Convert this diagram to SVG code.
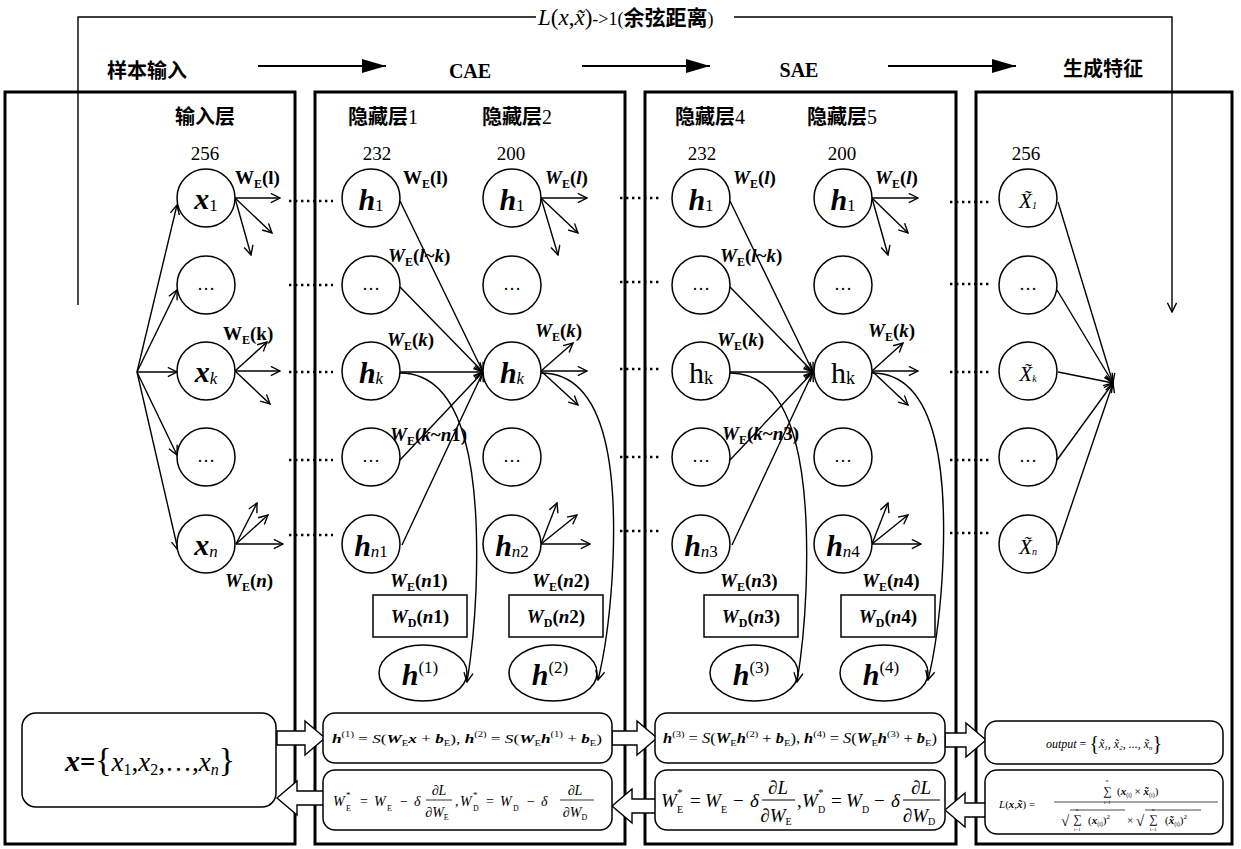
<svg xmlns="http://www.w3.org/2000/svg" width="1241" height="849" viewBox="0 0 1241 849">
<style>
.panel{fill:none;stroke:#000;stroke-width:3}
.nd{fill:#fff;stroke:#000;stroke-width:1.5}
.ln{fill:none;stroke:#000;stroke-width:1.4}
.dot{fill:none;stroke:#000;stroke-width:2.6;stroke-dasharray:2.4 3.6}
.box{fill:#fff;stroke:#000;stroke-width:1.5}
.barr{fill:#fff;stroke:#000;stroke-width:1.4}
.cn{font-family:"Noto Sans CJK SC","Liberation Serif",sans-serif;font-weight:bold;font-size:20px}
.se{font-family:"Liberation Serif","Noto Sans CJK SC",serif}
.num{font-family:"Liberation Serif",serif;font-size:19px}
.b{font-weight:bold}
.i{font-style:italic}
.bi{font-weight:bold;font-style:italic}
.lab{font-family:"Liberation Serif",serif;font-weight:bold;font-size:19px}
.nl{font-family:"Liberation Serif",serif;font-size:30px}
.el{font-family:"Liberation Serif",serif;font-size:18px}
.m{font-family:"Liberation Serif",serif}
</style>
<defs>
<marker id="op" viewBox="0 0 12 12" refX="11" refY="6" markerWidth="11" markerHeight="11" markerUnits="userSpaceOnUse" orient="auto"><path d="M1,1 L11,6 L1,11" fill="none" stroke="#000" stroke-width="1.5"/></marker>
<marker id="sol" viewBox="0 0 24 14" refX="24" refY="7" markerWidth="24" markerHeight="14" markerUnits="userSpaceOnUse" orient="auto"><path d="M0,0 L24,7 L0,14 z" fill="#000"/></marker>
</defs>

<rect width="1241" height="849" fill="#fff"/>

<!-- panels -->
<g id="panels">
<rect class="panel" x="5" y="92" width="290" height="752"/>
<rect class="panel" x="315" y="92" width="310" height="752"/>
<rect class="panel" x="645" y="92" width="311" height="752"/>
<rect class="panel" x="976" y="92" width="256" height="752"/>
</g>

<!-- header -->
<g id="header">
<text class="cn" x="107" y="78">样本输入</text>
<text class="se b" x="470" y="78" font-size="20" text-anchor="middle">CAE</text>
<text class="se b" x="799" y="77" font-size="20" text-anchor="middle">SAE</text>
<text class="cn" x="1063" y="76" font-size="21">生成特征</text>
<text class="se" x="538" y="25"><tspan class="i" font-size="23">L</tspan><tspan font-size="23">(</tspan><tspan class="i" font-size="23">x</tspan><tspan font-size="23">,</tspan><tspan class="i" font-size="23">x&#771;</tspan><tspan font-size="23">)</tspan><tspan font-size="18">-&gt;1(</tspan><tspan font-size="21" font-family="Noto Sans CJK SC" font-weight="bold">余弦距离</tspan><tspan font-size="18">)</tspan></text>
</g>

<!-- connectors -->
<g id="connectors">
<path class="ln" d="M78,305 V17 H536"/>
<path class="ln" d="M734,17 H1172 V312" marker-end="url(#op)"/>
<line x1="258" y1="66" x2="386" y2="66" stroke="#000" stroke-width="2" marker-end="url(#sol)"/>
<line x1="582" y1="66" x2="710" y2="66" stroke="#000" stroke-width="2" marker-end="url(#sol)"/>
<line x1="888" y1="66" x2="1016" y2="66" stroke="#000" stroke-width="2" marker-end="url(#sol)"/>

<!-- fan into input -->
<g class="ln" marker-end="url(#op)">
<line x1="137" y1="372" x2="177" y2="205"/>
<line x1="137" y1="372" x2="177" y2="290"/>
<line x1="137" y1="372" x2="177" y2="372"/>
<line x1="137" y1="372" x2="177" y2="455"/>
<line x1="137" y1="372" x2="178" y2="550"/>
</g>
<!-- input outs -->
<g class="ln" marker-end="url(#op)">
<line x1="235" y1="198" x2="280" y2="198"/>
<line x1="235" y1="198" x2="272" y2="233"/>
<line x1="235" y1="198" x2="251" y2="255"/>
<line x1="235" y1="371" x2="267" y2="342"/>
<line x1="235" y1="371" x2="280" y2="371"/>
<line x1="235" y1="371" x2="270" y2="404"/>
<line x1="236" y1="544" x2="257" y2="503"/>
<line x1="236" y1="544" x2="268" y2="515"/>
<line x1="236" y1="544" x2="283" y2="544"/>
</g>
<!-- panel 2 converge -->
<g class="ln" marker-end="url(#op)">
<line x1="400" y1="201" x2="483" y2="372"/>
<line x1="400" y1="287" x2="483" y2="372"/>
<line x1="400" y1="372" x2="483" y2="372"/>
<line x1="400" y1="460" x2="483" y2="372"/>
<line x1="402" y1="545" x2="483" y2="372"/>
</g>
<g class="ln" marker-end="url(#op)">
<line x1="541" y1="198" x2="587" y2="198"/>
<line x1="541" y1="198" x2="578" y2="233"/>
<line x1="541" y1="198" x2="558" y2="255"/>
<line x1="541" y1="371" x2="573" y2="343"/>
<line x1="541" y1="371" x2="587" y2="371"/>
<line x1="541" y1="371" x2="578" y2="405"/>
<line x1="541" y1="544" x2="557" y2="503"/>
<line x1="541" y1="544" x2="577" y2="515"/>
<line x1="541" y1="544" x2="590" y2="544"/>
</g>
<path class="ln" d="M400,373 C468,373 480,480 476,590 Q474,640 467,682" marker-end="url(#op)"/>
<path class="ln" d="M541,373 C610,373 618,480 612,580 Q608,640 598,680" marker-end="url(#op)"/>
<!-- panel 3 converge -->
<g class="ln" marker-end="url(#op)">
<line x1="730" y1="201" x2="813" y2="372"/>
<line x1="730" y1="287" x2="813" y2="372"/>
<line x1="730" y1="372" x2="813" y2="372"/>
<line x1="730" y1="460" x2="813" y2="372"/>
<line x1="732" y1="545" x2="813" y2="372"/>
</g>
<g class="ln" marker-end="url(#op)">
<line x1="872" y1="198" x2="918" y2="198"/>
<line x1="872" y1="198" x2="908" y2="233"/>
<line x1="872" y1="198" x2="888" y2="255"/>
<line x1="872" y1="371" x2="903" y2="343"/>
<line x1="872" y1="371" x2="918" y2="371"/>
<line x1="872" y1="371" x2="908" y2="405"/>
<line x1="872" y1="544" x2="888" y2="503"/>
<line x1="872" y1="544" x2="908" y2="515"/>
<line x1="872" y1="544" x2="921" y2="544"/>
</g>
<path class="ln" d="M730,373 C798,373 810,480 806,590 Q804,640 797,682" marker-end="url(#op)"/>
<path class="ln" d="M872,373 C940,373 948,480 942,580 Q938,640 928,680" marker-end="url(#op)"/>
<!-- output converge -->
<g class="ln" marker-end="url(#op)">
<line x1="1058" y1="202" x2="1113" y2="383"/>
<line x1="1057" y1="290" x2="1113" y2="383"/>
<line x1="1058" y1="372" x2="1113" y2="383"/>
<line x1="1057" y1="460" x2="1113" y2="383"/>
<line x1="1058" y1="545" x2="1113" y2="383"/>
</g>
<!-- dotted links -->
<g class="dot">
<line x1="289" y1="201" x2="333" y2="201"/>
<line x1="289" y1="285" x2="333" y2="285"/>
<line x1="289" y1="372" x2="333" y2="372"/>
<line x1="289" y1="460" x2="333" y2="460"/>
<line x1="289" y1="535" x2="333" y2="535"/>
<line x1="620" y1="198" x2="662" y2="198"/>
<line x1="620" y1="282" x2="662" y2="282"/>
<line x1="620" y1="369" x2="662" y2="369"/>
<line x1="620" y1="457" x2="662" y2="457"/>
<line x1="620" y1="531" x2="662" y2="531"/>
<line x1="950" y1="202" x2="992" y2="202"/>
<line x1="950" y1="284" x2="992" y2="284"/>
<line x1="950" y1="372" x2="992" y2="372"/>
<line x1="950" y1="460" x2="992" y2="460"/>
<line x1="950" y1="533" x2="992" y2="533"/>
</g>
</g>

<!-- layer titles -->
<g id="titles">
<text class="cn" x="205" y="124" text-anchor="middle">输入层</text>
<text class="cn" x="383" y="124" text-anchor="middle">隐藏层<tspan class="se" font-weight="normal">1</tspan></text>
<text class="cn" x="517" y="124" text-anchor="middle">隐藏层<tspan class="se" font-weight="normal">2</tspan></text>
<text class="cn" x="710" y="124" text-anchor="middle">隐藏层<tspan class="se" font-weight="normal">4</tspan></text>
<text class="cn" x="842" y="124" text-anchor="middle">隐藏层<tspan class="se" font-weight="normal">5</tspan></text>
<text class="num" x="205" y="160" text-anchor="middle">256</text>
<text class="num" x="377" y="160" text-anchor="middle">232</text>
<text class="num" x="511" y="160" text-anchor="middle">200</text>
<text class="num" x="702" y="160" text-anchor="middle">232</text>
<text class="num" x="842" y="160" text-anchor="middle">200</text>
<text class="num" x="1026" y="160" text-anchor="middle">256</text>
</g>

<!-- input layer nodes -->
<g id="n-x1"><circle class="nd" cx="206" cy="198" r="29"/><text class="nl" x="206" y="209" text-anchor="middle"><tspan class="bi">x</tspan><tspan font-size="17" dy="2">1</tspan></text></g>
<g id="n-x2"><circle class="nd" cx="206" cy="285" r="29"/><text class="el" x="206" y="290" text-anchor="middle">…</text></g>
<g id="n-xk"><circle class="nd" cx="206" cy="371" r="29"/><text class="nl" x="206" y="382" text-anchor="middle"><tspan class="bi">x</tspan><tspan class="i" font-size="17" dy="2">k</tspan></text></g>
<g id="n-x4"><circle class="nd" cx="206" cy="457" r="29"/><text class="el" x="206" y="462" text-anchor="middle">…</text></g>
<g id="n-xn"><circle class="nd" cx="206" cy="544" r="29"/><text class="nl" x="206" y="555" text-anchor="middle"><tspan class="bi">x</tspan><tspan class="i" font-size="17" dy="2">n</tspan></text></g>

<!-- hidden 1 -->
<g id="n-h1a"><circle class="nd" cx="371" cy="198" r="29"/><text class="nl" x="371" y="210" text-anchor="middle"><tspan class="bi">h</tspan><tspan font-size="17" dy="1">1</tspan></text></g>
<g id="n-h2a"><circle class="nd" cx="371" cy="285" r="29"/><text class="el" x="371" y="290" text-anchor="middle">…</text></g>
<g id="n-hka"><circle class="nd" cx="371" cy="371" r="29"/><text class="nl" x="371" y="383" text-anchor="middle"><tspan class="bi">h</tspan><tspan class="i" font-size="17" dy="1">k</tspan></text></g>
<g id="n-h4a"><circle class="nd" cx="371" cy="457" r="29"/><text class="el" x="371" y="462" text-anchor="middle">…</text></g>
<g id="n-hna"><circle class="nd" cx="371" cy="544" r="29"/><text class="nl" x="371" y="556" text-anchor="middle"><tspan class="bi">h</tspan><tspan class="i" font-size="17" dy="1">n</tspan><tspan font-size="17">1</tspan></text></g>
<!-- hidden 2 -->
<g id="n-h1b"><circle class="nd" cx="512" cy="198" r="29"/><text class="nl" x="512" y="210" text-anchor="middle"><tspan class="bi">h</tspan><tspan font-size="17" dy="1">1</tspan></text></g>
<g id="n-h2b"><circle class="nd" cx="512" cy="285" r="29"/><text class="el" x="512" y="290" text-anchor="middle">…</text></g>
<g id="n-hkb"><circle class="nd" cx="512" cy="371" r="29"/><text class="nl" x="512" y="383" text-anchor="middle"><tspan class="bi">h</tspan><tspan class="i" font-size="17" dy="1">k</tspan></text></g>
<g id="n-h4b"><circle class="nd" cx="512" cy="457" r="29"/><text class="el" x="512" y="462" text-anchor="middle">…</text></g>
<g id="n-hnb"><circle class="nd" cx="512" cy="544" r="29"/><text class="nl" x="512" y="556" text-anchor="middle"><tspan class="bi">h</tspan><tspan class="i" font-size="17" dy="1">n</tspan><tspan font-size="17">2</tspan></text></g>
<!-- hidden 4 -->
<g id="n-h1c"><circle class="nd" cx="701" cy="198" r="29"/><text class="nl" x="701" y="210" text-anchor="middle"><tspan class="bi">h</tspan><tspan font-size="17" dy="1">1</tspan></text></g>
<g id="n-h2c"><circle class="nd" cx="701" cy="285" r="29"/><text class="el" x="701" y="290" text-anchor="middle">…</text></g>
<g id="n-hkc"><circle class="nd" cx="701" cy="371" r="29"/><text class="nl" x="701" y="383" text-anchor="middle">h<tspan font-size="18" dy="1">k</tspan></text></g>
<g id="n-h4c"><circle class="nd" cx="701" cy="457" r="29"/><text class="el" x="701" y="462" text-anchor="middle">…</text></g>
<g id="n-hnc"><circle class="nd" cx="701" cy="544" r="29"/><text class="nl" x="701" y="556" text-anchor="middle"><tspan class="bi">h</tspan><tspan class="i" font-size="17" dy="1">n</tspan><tspan font-size="17">3</tspan></text></g>
<!-- hidden 5 -->
<g id="n-h1d"><circle class="nd" cx="843" cy="198" r="29"/><text class="nl" x="843" y="210" text-anchor="middle"><tspan class="bi">h</tspan><tspan font-size="17" dy="1">1</tspan></text></g>
<g id="n-h2d"><circle class="nd" cx="843" cy="285" r="29"/><text class="el" x="843" y="290" text-anchor="middle">…</text></g>
<g id="n-hkd"><circle class="nd" cx="843" cy="371" r="29"/><text class="nl" x="843" y="383" text-anchor="middle">h<tspan font-size="18" dy="1">k</tspan></text></g>
<g id="n-h4d"><circle class="nd" cx="843" cy="457" r="29"/><text class="el" x="843" y="462" text-anchor="middle">…</text></g>
<g id="n-hnd"><circle class="nd" cx="843" cy="544" r="29"/><text class="nl" x="843" y="556" text-anchor="middle"><tspan class="bi">h</tspan><tspan class="i" font-size="17" dy="1">n</tspan><tspan font-size="17">4</tspan></text></g>
<!-- output -->
<g id="n-o1"><circle class="nd" cx="1028" cy="198" r="29"/><text class="m i" x="1028" y="208" font-size="21" text-anchor="middle">X&#771;<tspan font-size="10" dy="1">1</tspan></text></g>
<g id="n-o2"><circle class="nd" cx="1028" cy="285" r="29"/><text class="el" x="1028" y="290" text-anchor="middle">…</text></g>
<g id="n-ok"><circle class="nd" cx="1028" cy="371" r="29"/><text class="m i" x="1028" y="381" font-size="21" text-anchor="middle">X&#771;<tspan font-size="10" dy="1">k</tspan></text></g>
<g id="n-o4"><circle class="nd" cx="1028" cy="457" r="29"/><text class="el" x="1028" y="462" text-anchor="middle">…</text></g>
<g id="n-on"><circle class="nd" cx="1028" cy="544" r="29"/><text class="m i" x="1028" y="554" font-size="21" text-anchor="middle">X&#771;<tspan font-size="10" dy="1">n</tspan></text></g>

<!-- weight labels -->
<g id="weights" class="lab">
<text x="235" y="184">W<tspan font-size="12" dy="4">E</tspan><tspan dy="-4">(l)</tspan></text>
<text x="223" y="340">W<tspan font-size="12" dy="4">E</tspan><tspan dy="-4">(k)</tspan></text>
<text x="225" y="587"><tspan class="i">W</tspan><tspan font-size="12" dy="4">E</tspan><tspan dy="-4">(</tspan><tspan class="i">n</tspan>)</text>

<text x="403" y="184">W<tspan font-size="12" dy="4">E</tspan><tspan dy="-4">(l)</tspan></text>
<text x="388" y="262"><tspan class="i">W</tspan><tspan font-size="12" dy="4">E</tspan><tspan dy="-4">(</tspan><tspan class="i">l</tspan>~<tspan class="i">k</tspan>)</text>
<text x="387" y="346"><tspan class="i">W</tspan><tspan font-size="12" dy="4">E</tspan><tspan dy="-4">(</tspan><tspan class="i">k</tspan>)</text>
<text x="390" y="441"><tspan class="i">W</tspan><tspan font-size="12" dy="4">E</tspan><tspan dy="-4">(</tspan><tspan class="i">k</tspan>~<tspan class="i">n</tspan>1)</text>
<text x="390" y="587"><tspan class="i">W</tspan><tspan font-size="12" dy="4">E</tspan><tspan dy="-4">(</tspan><tspan class="i">n</tspan>1)</text>
<text x="545" y="184"><tspan class="i">W</tspan><tspan font-size="12" dy="4">E</tspan><tspan dy="-4">(</tspan><tspan class="i">l</tspan>)</text>
<text x="535" y="337"><tspan class="i">W</tspan><tspan font-size="12" dy="4">E</tspan><tspan dy="-4">(</tspan><tspan class="i">k</tspan>)</text>
<text x="532" y="587"><tspan class="i">W</tspan><tspan font-size="12" dy="4">E</tspan><tspan dy="-4">(</tspan><tspan class="i">n</tspan>2)</text>

<text x="733" y="184"><tspan class="i">W</tspan><tspan font-size="12" dy="4">E</tspan><tspan dy="-4">(</tspan><tspan class="i">l</tspan>)</text>
<text x="720" y="262"><tspan class="i">W</tspan><tspan font-size="12" dy="4">E</tspan><tspan dy="-4">(</tspan><tspan class="i">l</tspan>~<tspan class="i">k</tspan>)</text>
<text x="717" y="346"><tspan class="i">W</tspan><tspan font-size="12" dy="4">E</tspan><tspan dy="-4">(</tspan><tspan class="i">k</tspan>)</text>
<text x="722" y="440"><tspan class="i">W</tspan><tspan font-size="12" dy="4">E</tspan><tspan dy="-4">(</tspan><tspan class="i">k</tspan>~<tspan class="i">n</tspan>3)</text>
<text x="720" y="587"><tspan class="i">W</tspan><tspan font-size="12" dy="4">E</tspan><tspan dy="-4">(</tspan><tspan class="i">n</tspan>3)</text>
<text x="875" y="184"><tspan class="i">W</tspan><tspan font-size="12" dy="4">E</tspan><tspan dy="-4">(</tspan><tspan class="i">l</tspan>)</text>
<text x="868" y="337"><tspan class="i">W</tspan><tspan font-size="12" dy="4">E</tspan><tspan dy="-4">(</tspan><tspan class="i">k</tspan>)</text>
<text x="862" y="587"><tspan class="i">W</tspan><tspan font-size="12" dy="4">E</tspan><tspan dy="-4">(</tspan><tspan class="i">n</tspan>4)</text>
</g>

<!-- decoder boxes -->
<g id="wd1"><rect class="box" x="373" y="595" width="94" height="42"/><text class="lab" x="420" y="623" text-anchor="middle"><tspan class="i">W</tspan><tspan font-size="12" dy="4">D</tspan><tspan dy="-4">(</tspan><tspan class="i">n</tspan>1)</text></g>
<g id="wd2"><rect class="box" x="509" y="595" width="94" height="42"/><text class="lab" x="556" y="623" text-anchor="middle"><tspan class="i">W</tspan><tspan font-size="12" dy="4">D</tspan><tspan dy="-4">(</tspan><tspan class="i">n</tspan>2)</text></g>
<g id="wd3"><rect class="box" x="704" y="595" width="94" height="42"/><text class="lab" x="751" y="623" text-anchor="middle"><tspan class="i">W</tspan><tspan font-size="12" dy="4">D</tspan><tspan dy="-4">(</tspan><tspan class="i">n</tspan>3)</text></g>
<g id="wd4"><rect class="box" x="841" y="595" width="94" height="42"/><text class="lab" x="888" y="623" text-anchor="middle"><tspan class="i">W</tspan><tspan font-size="12" dy="4">D</tspan><tspan dy="-4">(</tspan><tspan class="i">n</tspan>4)</text></g>

<!-- hidden-code ellipses -->
<g id="hc1"><ellipse class="nd" cx="423" cy="673" rx="44" ry="28" style="fill:none"/><text class="m" x="420" y="685" text-anchor="middle"><tspan class="bi" font-size="30">h</tspan><tspan font-size="17" dy="-12">(1)</tspan></text></g>
<g id="hc2"><ellipse class="nd" cx="553" cy="673" rx="44" ry="28" style="fill:none"/><text class="m" x="550" y="685" text-anchor="middle"><tspan class="bi" font-size="30">h</tspan><tspan font-size="17" dy="-12">(2)</tspan></text></g>
<g id="hc3"><ellipse class="nd" cx="754" cy="673" rx="44" ry="28" style="fill:none"/><text class="m" x="751" y="685" text-anchor="middle"><tspan class="bi" font-size="30">h</tspan><tspan font-size="17" dy="-12">(3)</tspan></text></g>
<g id="hc4"><ellipse class="nd" cx="884" cy="673" rx="44" ry="28" style="fill:none"/><text class="m" x="881" y="685" text-anchor="middle"><tspan class="bi" font-size="30">h</tspan><tspan font-size="17" dy="-12">(4)</tspan></text></g>

<!-- block arrows -->
<g id="block-arrows" class="barr">
<polygon points="277,731 305,731 305,721 325,738 305,755 305,745 277,745"/>
<polygon points="612,731 637,731 637,721 657,738 637,755 637,745 612,745"/>
<polygon points="945,733 966,733 966,723 986,740 966,757 966,747 945,747"/>
<polygon points="325,791 297,791 297,781 277,798 297,815 297,805 325,805"/>
<polygon points="657,799 632,799 632,789 612,806 632,823 632,813 657,813"/>
<polygon points="986,803 965,803 965,793 945,810 965,827 965,817 986,817"/>
</g>

<!-- input vector box -->
<g id="box-x">
<rect class="box" x="22" y="713" width="254" height="94" rx="14"/>
<text class="m" x="150" y="771" text-anchor="middle" font-size="27"><tspan class="bi" font-size="30">x</tspan><tspan font-weight="bold">=</tspan><tspan font-size="34">{</tspan><tspan class="i">x</tspan><tspan font-size="16" dy="4">1</tspan><tspan dy="-4">,</tspan><tspan class="i">x</tspan><tspan font-size="16" dy="4">2</tspan><tspan dy="-4">,…,</tspan><tspan class="i">x</tspan><tspan class="i" font-size="16" dy="4">n</tspan><tspan font-size="34" dy="-4">}</tspan></text>
</g>

<!-- CAE encode formula -->
<g id="box-cae-enc">
<rect class="box" x="323" y="713" width="289" height="50" rx="12"/>
<text class="m" x="467" y="743" text-anchor="middle" font-size="13" textLength="270" lengthAdjust="spacingAndGlyphs"><tspan class="bi">h</tspan><tspan font-size="8" dy="-6">(1)</tspan><tspan dy="6"> = </tspan><tspan class="i">S</tspan>(<tspan class="bi">W</tspan><tspan font-size="8" dy="3">E</tspan><tspan class="bi" dy="-3">x</tspan> + <tspan class="bi">b</tspan><tspan font-size="8" dy="3">E</tspan><tspan dy="-3">), </tspan><tspan class="bi">h</tspan><tspan font-size="8" dy="-6">(2)</tspan><tspan dy="6"> = </tspan><tspan class="i">S</tspan>(<tspan class="bi">W</tspan><tspan font-size="8" dy="3">E</tspan><tspan class="bi" dy="-3">h</tspan><tspan font-size="8" dy="-6">(1)</tspan><tspan dy="6"> + </tspan><tspan class="bi">b</tspan><tspan font-size="8" dy="3">E</tspan><tspan dy="-3">)</tspan></text>
</g>

<!-- CAE update formula -->
<g id="box-cae-upd">
<rect class="box" x="323" y="770" width="289" height="60" rx="12"/>
<g class="m" font-size="14">
<text class="i" x="333" y="806">W</text><text x="346" y="798" font-size="9">*</text><text x="346" y="811" font-size="8">E</text>
<text x="360" y="806">=</text>
<text class="i" x="374" y="806">W</text><text x="387" y="811" font-size="8">E</text>
<text x="400" y="806">−</text>
<text class="i" x="414" y="806">δ</text>
<text x="439" y="795" text-anchor="middle"><tspan>∂</tspan><tspan class="i">L</tspan></text>
<line x1="426" y1="800" x2="452" y2="800" stroke="#000" stroke-width="0.8"/>
<text x="437" y="817" text-anchor="middle">∂<tspan class="i">W</tspan><tspan font-size="8" dy="3">E</tspan></text>
<text x="455" y="806">,</text>
<text class="i" x="460" y="806">W</text><text x="473" y="798" font-size="9">*</text><text x="473" y="811" font-size="8">D</text>
<text x="486" y="806">=</text>
<text class="i" x="500" y="806">W</text><text x="513" y="811" font-size="8">D</text>
<text x="527" y="806">−</text>
<text class="i" x="541" y="806">δ</text>
<text x="575" y="795" text-anchor="middle"><tspan>∂</tspan><tspan class="i">L</tspan></text>
<line x1="560" y1="800" x2="594" y2="800" stroke="#000" stroke-width="0.8"/>
<text x="575" y="817" text-anchor="middle">∂<tspan class="i">W</tspan><tspan font-size="8" dy="3">D</tspan></text>
</g>
</g>

<!-- SAE encode formula -->
<g id="box-sae-enc">
<rect class="box" x="655" y="713" width="290" height="50" rx="12"/>
<text class="m" x="800" y="743" text-anchor="middle" font-size="14" textLength="274" lengthAdjust="spacingAndGlyphs"><tspan class="bi">h</tspan><tspan font-size="9" dy="-6">(3)</tspan><tspan dy="6"> = </tspan><tspan class="i">S</tspan>(<tspan class="bi">W</tspan><tspan font-size="9" dy="3">E</tspan><tspan class="bi" dy="-3">h</tspan><tspan font-size="9" dy="-6">(2)</tspan><tspan dy="6"> + </tspan><tspan class="bi">b</tspan><tspan font-size="9" dy="3">E</tspan><tspan dy="-3">), </tspan><tspan class="bi">h</tspan><tspan font-size="9" dy="-6">(4)</tspan><tspan dy="6"> = </tspan><tspan class="i">S</tspan>(<tspan class="bi">W</tspan><tspan font-size="9" dy="3">E</tspan><tspan class="bi" dy="-3">h</tspan><tspan font-size="9" dy="-6">(3)</tspan><tspan dy="6"> + </tspan><tspan class="bi">b</tspan><tspan font-size="9" dy="3">E</tspan><tspan dy="-3">)</tspan></text>
</g>

<!-- SAE update formula -->
<g id="box-sae-upd">
<rect class="box" x="655" y="770" width="290" height="60" rx="12"/>
<g class="m" font-size="19">
<text class="i" x="661" y="807">W</text><text x="677" y="796" font-size="11">*</text><text x="677" y="813" font-size="10">E</text>
<text x="690" y="807">=</text>
<text class="i" x="705" y="807">W</text><text x="721" y="813" font-size="10">E</text>
<text x="733" y="807">−</text>
<text class="i" x="750" y="807">δ</text>
<text x="778" y="794" text-anchor="middle">∂<tspan class="i">L</tspan></text>
<line x1="762" y1="800" x2="795" y2="800" stroke="#000" stroke-width="1"/>
<text x="776" y="822" text-anchor="middle">∂<tspan class="i">W</tspan><tspan font-size="10" dy="3">E</tspan></text>
<text x="797" y="807">,</text>
<text class="i" x="802" y="807">W</text><text x="818" y="796" font-size="11">*</text><text x="818" y="813" font-size="10">D</text>
<text x="831" y="807">=</text>
<text class="i" x="846" y="807">W</text><text x="862" y="813" font-size="10">D</text>
<text x="874" y="807">−</text>
<text class="i" x="891" y="807">δ</text>
<text x="921" y="794" text-anchor="middle">∂<tspan class="i">L</tspan></text>
<line x1="903" y1="800" x2="940" y2="800" stroke="#000" stroke-width="1"/>
<text x="919" y="822" text-anchor="middle">∂<tspan class="i">W</tspan><tspan font-size="10" dy="3">D</tspan></text>
</g>
</g>

<!-- output formula -->
<g id="box-out">
<rect class="box" x="985" y="721" width="238" height="43" rx="12"/>
<text class="m i" x="1104" y="748" text-anchor="middle" font-size="12"><tspan>output</tspan><tspan font-style="normal"> = </tspan><tspan font-style="normal" font-size="20" dy="2">{</tspan><tspan dy="-2">x&#771;</tspan><tspan font-size="7" dy="2">1</tspan><tspan dy="-2">, x&#771;</tspan><tspan font-size="7" dy="2">2</tspan><tspan dy="-2">, ..., x&#771;</tspan><tspan font-size="7" dy="2">n</tspan><tspan font-style="normal" font-size="20">}</tspan></text>
</g>

<!-- cosine loss formula -->
<g id="box-loss">
<rect class="box" x="985" y="770" width="238" height="64" rx="12"/>
<g class="m" font-size="11">
<text x="999" y="808"><tspan class="i">L</tspan>(<tspan class="bi">x</tspan>,<tspan class="bi">x&#771;</tspan>) =</text>
<line x1="1054" y1="802" x2="1218" y2="802" stroke="#000" stroke-width="0.7"/>
<text x="1103" y="795" font-size="12">∑</text>
<text x="1106" y="782" font-size="5">n</text>
<text x="1104" y="804" font-size="5">i=1</text>
<text x="1117" y="795">(<tspan class="bi">x</tspan><tspan font-size="6" dy="2">(i)</tspan><tspan dy="-2"> × </tspan><tspan class="bi">x&#771;</tspan><tspan font-size="6" dy="2">(i)</tspan><tspan dy="-2">)</tspan></text>
<text x="1061" y="826" font-size="15">√</text>
<line x1="1070" y1="810" x2="1125" y2="810" stroke="#000" stroke-width="0.7"/>
<text x="1073" y="823" font-size="12">∑</text>
<text x="1076" y="811" font-size="5">n</text>
<text x="1074" y="831" font-size="5">i=1</text>
<text x="1088" y="824">(<tspan class="bi">x</tspan><tspan font-size="6" dy="2">(i)</tspan><tspan dy="-2">)</tspan><tspan font-size="7" dy="-5">2</tspan></text>
<text x="1127" y="824">×</text>
<text x="1136" y="826" font-size="15">√</text>
<line x1="1145" y1="810" x2="1201" y2="810" stroke="#000" stroke-width="0.7"/>
<text x="1149" y="823" font-size="12">∑</text>
<text x="1152" y="811" font-size="5">n</text>
<text x="1150" y="831" font-size="5">i=1</text>
<text x="1165" y="824">(<tspan class="bi">x&#771;</tspan><tspan font-size="6" dy="2">(i)</tspan><tspan dy="-2">)</tspan><tspan font-size="7" dy="-5">2</tspan></text>
</g>
</g>
</svg>
